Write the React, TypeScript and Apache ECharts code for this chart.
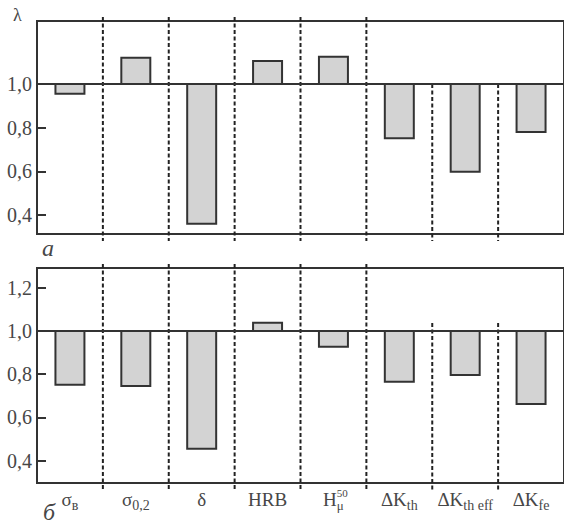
import React, { useEffect, useRef } from "react";
import * as echarts from "echarts";

// ---- data ----
const categories = ["σв", "σ0,2", "δ", "HRB", "H50μ", "ΔKth", "ΔKth eff", "ΔKfe"];
const categoryLabels = [
  "σ{sub|в}",
  "σ{sub|0,2}",
  "δ",
  "HRB",
  "{hl|H}{sup|50}{subl|μ}",
  "ΔK{sub|th}",
  "ΔK{sub|th eff}",
  "ΔK{sub|fe}",
];
const lambdaA = [0.955, 1.12, 0.36, 1.105, 1.125, 0.752, 0.598, 0.78];
const lambdaB = [0.751, 0.746, 0.455, 1.038, 0.927, 0.765, 0.796, 0.662];
const baseValue = 1.0;
const ticksA = [0.4, 0.6, 0.8, 1.0];
const ticksB = [0.4, 0.6, 0.8, 1.0, 1.2];
const separatorPositions = [1, 2, 3, 4, 5, 6, 7];
// where each dashed separator starts: "top" = whole panel height, number = from that λ value
const separatorStartA = ["top", "top", "top", "top", "top", 1.0, 1.0];
const separatorStartB = ["top", "top", "top", "top", "top", 1.0, 1.0];

const FONT = "Liberation Serif";
const TEXT = "#474747";
const LINE = "#333333";

const rangeA = { min: 0.313, max: 1.2886 };
const rangeB = { min: 0.2966, max: 1.2915 };

function fmt(v: number) {
  return v.toFixed(1).replace(".", ",");
}

function barRender(params: any, api: any) {
  const i = api.value(0);
  const v = api.value(1);
  const p0 = api.coord([i, baseValue]);
  const p1 = api.coord([i, v]);
  const w = api.size([1, 0])[0] * 0.44;
  const y = Math.min(p0[1], p1[1]);
  const h = Math.abs(p1[1] - p0[1]);
  return {
    type: "rect",
    shape: { x: p0[0] - w / 2, y, width: w, height: h },
    style: { fill: "#d3d3d3", stroke: LINE, lineWidth: 2 },
  };
}

function makeSepRender(range: { min: number; max: number }, partialExt: number) {
  return (params: any, api: any) => {
    const x = api.value(0);
    const start = api.value(1);
    const bottom = api.coord([x, range.min]);
    let y1: number;
    if (start >= range.max) {
      y1 = api.coord([x, range.max])[1] - 4;
    } else {
      y1 = api.coord([x, start])[1] - partialExt;
    }
    return {
      type: "line",
      shape: { x1: bottom[0], y1, x2: bottom[0], y2: bottom[1] + 7 },
      style: { stroke: "#222", lineWidth: 2, lineDash: [4, 2.5] },
    };
  };
}

function yAxisCfg(gridIndex: number, range: { min: number; max: number }, ticks: number[]) {
  return {
    type: "value",
    gridIndex,
    min: range.min,
    max: range.max,
    axisLine: { show: false },
    splitLine: { show: false },
    axisTick: {
      show: true,
      inside: true,
      length: 9,
      customValues: ticks,
      lineStyle: { color: LINE, width: 2 },
    },
    axisLabel: {
      show: true,
      customValues: ticks,
      formatter: (v: number) => fmt(v),
      fontFamily: FONT,
      fontSize: 20,
      color: TEXT,
      margin: 5,
    },
  };
}

const baseLine = {
  silent: true,
  symbol: "none",
  label: { show: false },
  lineStyle: { color: LINE, width: 2, type: "solid" },
  data: [{ yAxis: baseValue }],
};

export default function App() {
  const ref = useRef<HTMLDivElement>(null);
  useEffect(() => {
    if (!ref.current) return;
    const chart = echarts.init(ref.current, null, { renderer: "svg" });
    const option: any = {
      animation: false,
      backgroundColor: "#ffffff",
      textStyle: { fontFamily: FONT },
      grid: [
        { left: 37, top: 21, width: 532, height: 213, show: true, borderColor: LINE, borderWidth: 2 },
        { left: 37, top: 268, width: 532, height: 215, show: true, borderColor: LINE, borderWidth: 2 },
      ],
      xAxis: [
        {
          type: "category",
          gridIndex: 0,
          data: categories,
          axisLine: { show: false },
          axisTick: { show: false },
          axisLabel: { show: false },
        },
        { type: "value", gridIndex: 0, min: 0, max: 8, show: false },
        {
          type: "category",
          gridIndex: 1,
          data: categories,
          axisLine: { show: false },
          axisTick: { show: false },
          axisLabel: {
            show: true,
            interval: 0,
            margin: 4,
            formatter: (_v: string, idx: number) => categoryLabels[idx],
            fontFamily: FONT,
            fontSize: 19,
            lineHeight: 25,
            color: TEXT,
            rich: {
              sub: {
                fontFamily: FONT,
                fontSize: 14,
                lineHeight: 12,
                color: TEXT,
                verticalAlign: "bottom",
              },
              hl: {
                fontFamily: FONT,
                fontSize: 19,
                lineHeight: 25,
                color: TEXT,
                align: "left",
              },
              subl: {
                fontFamily: FONT,
                fontSize: 13,
                lineHeight: 12,
                color: TEXT,
                verticalAlign: "bottom",
                align: "left",
              },
              sup: {
                fontFamily: FONT,
                fontSize: 11,
                lineHeight: 9,
                color: TEXT,
                verticalAlign: "top",
                align: "left",
                width: 0,
              },
            },
          },
        },
        { type: "value", gridIndex: 1, min: 0, max: 8, show: false },
      ],
      yAxis: [yAxisCfg(0, rangeA, ticksA), yAxisCfg(1, rangeB, ticksB)],
      graphic: [
        { type: "text", left: 13, top: 6, style: { text: "λ", fontFamily: FONT, fontSize: 18, fill: TEXT } },
        {
          type: "text",
          left: 42,
          top: 236,
          style: { text: "а", fontFamily: FONT, fontSize: 24, fontStyle: "italic", fill: TEXT },
        },
        {
          type: "text",
          left: 43,
          top: 500,
          style: { text: "б", fontFamily: FONT, fontSize: 24, fontStyle: "italic", fill: TEXT },
        },
      ],
      series: [
        {
          type: "custom",
          xAxisIndex: 1,
          yAxisIndex: 0,
          clip: false,
          silent: true,
          renderItem: makeSepRender(rangeA, 0),
          data: separatorPositions.map((p, i) => [
            p,
            separatorStartA[i] === "top" ? rangeA.max : (separatorStartA[i] as number),
          ]),
          z: 1,
        },
        {
          type: "custom",
          xAxisIndex: 3,
          yAxisIndex: 1,
          clip: false,
          silent: true,
          renderItem: makeSepRender(rangeB, 8),
          data: separatorPositions.map((p, i) => [
            p,
            separatorStartB[i] === "top" ? rangeB.max : (separatorStartB[i] as number),
          ]),
          z: 1,
        },
        {
          type: "custom",
          xAxisIndex: 0,
          yAxisIndex: 0,
          silent: true,
          renderItem: barRender,
          data: lambdaA.map((v, i) => [i, v]),
          markLine: baseLine,
          z: 2,
        },
        {
          type: "custom",
          xAxisIndex: 2,
          yAxisIndex: 1,
          silent: true,
          renderItem: barRender,
          data: lambdaB.map((v, i) => [i, v]),
          markLine: baseLine,
          z: 2,
        },
      ],
    };
    chart.setOption(option);
    return () => chart.dispose();
  }, []);
  return (
    <div
      ref={ref}
      style={{ position: "fixed", left: 0, top: 0, width: 564, height: 525, background: "#fff" }}
    />
  );
}
